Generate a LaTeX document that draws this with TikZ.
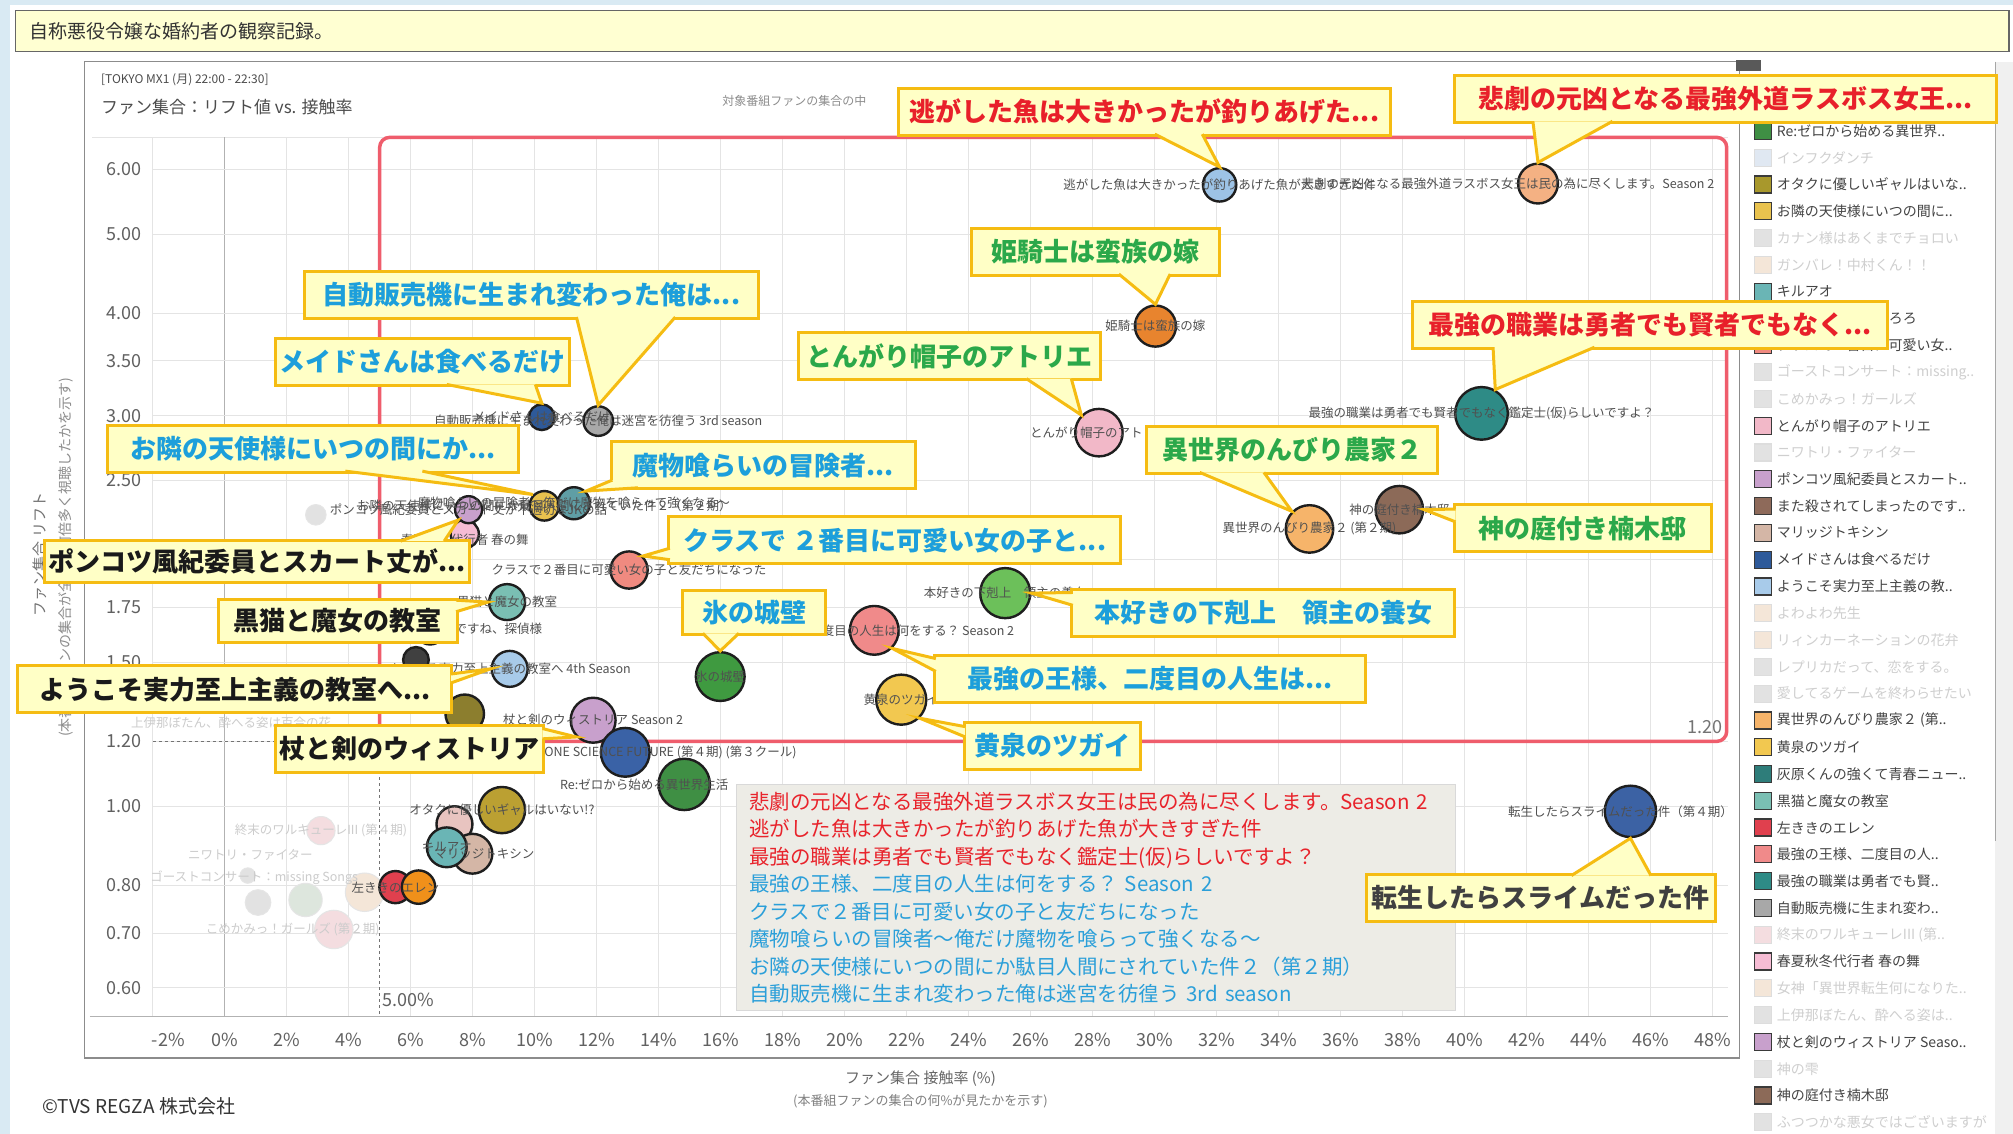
\documentclass[tikz,border=0pt]{standalone}
\usepackage{fontspec}
\setmainfont{Noto Sans CJK JP}
\usetikzlibrary{calc}
\usetikzlibrary{positioning}

\definecolor{winblue}{HTML}{D9EAF3}
\definecolor{titlebar}{HTML}{FFFFD2}
\definecolor{calfill}{HTML}{FFFFC6}
\definecolor{calline}{HTML}{F5BC12}
\definecolor{calred}{HTML}{E8202A}
\definecolor{calblue}{HTML}{1D9FDB}
\definecolor{calgreen}{HTML}{2BA84A}
\definecolor{calblack}{HTML}{1A1A1A}
\definecolor{bubline}{HTML}{1E1E1E}
\definecolor{labgray}{HTML}{505050}
\definecolor{gridgray}{HTML}{E4E4E4}
\definecolor{redbox}{HTML}{EF5D6C}
\definecolor{notebg}{HTML}{EDECE6}
\definecolor{txtred}{HTML}{E8232B}
\definecolor{txtblue}{HTML}{2B9FD9}
\definecolor{legtxt}{HTML}{444444}
\definecolor{legfade}{HTML}{CFCFCF}
\definecolor{legbd}{HTML}{3A3A3A}
\definecolor{legfbd}{HTML}{DDDDDD}
% bubble colours
\definecolor{cNigashi}{HTML}{9DC3E6}
\definecolor{cHigeki}{HTML}{F4B183}
\definecolor{cHime}{HTML}{E8842E}
\definecolor{cTongari}{HTML}{F2B8C8}
\definecolor{cSaikyo}{HTML}{2E8B86}
\definecolor{cKami}{HTML}{8C6A58}
\definecolor{cIsekai}{HTML}{F6B46A}
\definecolor{cHonzuki}{HTML}{6CC05A}
\definecolor{cOusama}{HTML}{F08A8A}
\definecolor{cYomi}{HTML}{F2C850}
\definecolor{cKoori}{HTML}{3F9A40}
\definecolor{cClass}{HTML}{F08A80}
\definecolor{cMamono}{HTML}{5F9EA5}
\definecolor{cOtonari}{HTML}{E9C24E}
\definecolor{cPonkotsu}{HTML}{C8A0CC}
\definecolor{cShunka}{HTML}{F6BCD4}
\definecolor{cJihan}{HTML}{A8A8A8}
\definecolor{cMaid}{HTML}{2E5A9A}
\definecolor{cKuroneko}{HTML}{7ABFB3}
\definecolor{cYoukoso}{HTML}{A8CBEA}
\definecolor{cTsue}{HTML}{C8A0CC}
\definecolor{cOlive}{HTML}{8C7E2E}
\definecolor{cDrstone}{HTML}{3A62A6}
\definecolor{cRezero}{HTML}{3F8F44}
\definecolor{cOtaku}{HTML}{BBA032}
\definecolor{cOtakuLeg}{HTML}{A8982C}
\definecolor{cKiruao}{HTML}{6AB5B5}
\definecolor{cMatakoro}{HTML}{8E6A5A}
\definecolor{cPinkish}{HTML}{E8C4C0}
\definecolor{cMarriage}{HTML}{D4B6A6}
\definecolor{cHidari}{HTML}{E0404E}
\definecolor{cOrange}{HTML}{F0901A}
\definecolor{cTensura}{HTML}{3C62A4}
\definecolor{cHaibara}{HTML}{2E7D7A}
\definecolor{cHoroboro}{HTML}{8FAF5A}
\definecolor{fGray}{HTML}{E2E2E2}
\definecolor{fBlue}{HTML}{E0E8F2}
\definecolor{fBeige}{HTML}{F4E6D8}
\definecolor{fPink}{HTML}{F4DDE0}
\definecolor{fGreen}{HTML}{DDE6DD}

\tikzset{
  bub/.style={circle, draw=bubline, line width=2.4pt, inner sep=0pt, minimum size={#1*1.2838pt}},
  fadebub/.style={circle, draw=black!10, line width=1pt, inner sep=0pt, minimum size={#1*1.2838pt}},
  lab/.style={text=labgray, inner sep=0pt, font=\fontsize{12.5}{13}\selectfont},
  fadelab/.style={text=black!20, inner sep=0pt, font=\fontsize{12.5}{13}\selectfont},
  callbox/.style={draw=calline, fill=calfill, line width=3pt, inner xsep=4pt, minimum height=47pt,
    font=\bfseries\fontsize{26}{28}\selectfont},
  tick/.style={text=black!62, inner sep=0pt, font=\fontsize{18}{18}\selectfont},
  gridline/.style={draw=gridgray, line width=1pt},
  legsq/.style={minimum size=17pt, inner sep=0pt, line width=1.2pt},
  legtext/.style={inner sep=0pt, anchor=west, font=\fontsize{14}{14}\selectfont},
  notebox/.style={fill=notebg, draw=black!15, line width=1pt, align=left, anchor=north west,
    inner xsep=13pt, inner ysep=7pt, text width=693pt, font=\fontsize{20.5}{27.5}\selectfont},
}

% pointer of a callout: two base points inside the box, then the tip
\newcommand{\calptr}[3]{%
  \fill[calfill] #1 -- #3 -- #2 -- cycle;
  \draw[calline, line width=3pt] #1 -- #3 -- #2;}

\begin{document}
\begin{tikzpicture}[x=1.2838pt, y=-1.2838pt]
  \useasboundingbox (0,0) rectangle (1568,883);
  \fill[winblue] (0,0) rectangle (1568,883);
  \fill[white] (8,4) rectangle (1568,883);

  % title bar
  \draw[fill=titlebar, draw=black!60, line width=1.5pt] (12,8) rectangle (1565,40);
  \node[anchor=west, text=black!80, font=\fontsize{19}{19}\selectfont] (title) at (20,24) {自称悪役令嬢な婚約者の観察記録。};

  % chart frame and legend strip
  \draw[draw=black!45, line width=1.5pt] (66,48) rectangle (1355,824);
  \fill[black!6] (1554,48) rectangle (1568,883);
  \draw[draw=black!35, line width=1pt] (1554,48) -- (1554,655);
  \fill[black!65] (1352,47) rectangle (1372,55);

  % grid
  \draw[gridline] (72,107) -- (1346,107);
  \draw[gridline] (119,107) -- (119,792);
  \foreach \p in {2,4,...,48} {
    \pgfmathsetmacro\xx{175+24.15*\p}
    \draw[gridline] (\xx,107) -- (\xx,792);
  }
  \draw[draw=black!30, line width=1.2pt] (175,107) -- (175,792);
  \foreach \v/\s [count=\k] in {0.6/0.60,0.7/0.70,0.8/0.80,1/1.00,1.2/1.20,1.5/1.50,1.75/1.75,2/2.00,2.5/2.50,3/3.00,3.5/3.50,4/4.00,5/5.00,6/6.00} {
    \pgfmathsetmacro\yy{628-637.5*log10(\v)}
    \draw[gridline] (119,\yy) -- (1346,\yy);
    \node[tick, anchor=east] (yt\k) at (110,\yy) {\s};
  }
  \draw[draw=black!30, line width=1.2pt] (70,792) -- (1346,792);
  \node[tick] (xtm2) at (131,810) {-2\%};
  \foreach \p in {0,2,...,48} {
    \pgfmathsetmacro\xx{175+24.15*\p}
    \node[tick] (xt\p) at (\xx,810) {\p\%};
  }

  % thresholds
  \draw[draw=black!55, dashed, line width=1pt] (119,577.5) -- (295.75,577.5);
  \draw[draw=black!55, dashed, line width=1pt] (295.75,577.5) -- (295.75,792);
  \draw[redbox, line width=3.5pt, rounded corners=10pt] (295.75,107) rectangle (1345,577.5);
  \node[tick, anchor=east, text=black!55] (lim-y) at (1342,566) {1.20};
  \node[tick, anchor=west] (lim-x) at (298,779) {5.00\%};

  % headings and axis titles
  \node[anchor=west, text=black!70, font=\fontsize{12}{12}\selectfont] (head1) at (76,62) {[TOKYO MX1 (月) 22:00 - 22:30]};
  \node[anchor=west, text=black!70, font=\fontsize{17}{17}\selectfont] (head2) at (76,83) {ファン集合：リフト値 vs. 接触率};
  \node[anchor=west, text=black!45, font=\fontsize{12}{12}\selectfont] (head3) at (560,79) {対象番組ファンの集合の中};
  \node[rotate=90, text=black!55, font=\fontsize{15}{15}\selectfont] (ytitle1) at (31,432) {ファン集合 リフト};
  \node[rotate=90, text=black!45, font=\fontsize{14}{14}\selectfont] (ytitle2) at (51,434) {(本番組ファンの集合が全体の何倍多く視聴したかを示す)};
  \node[text=black!60, font=\fontsize{15}{15}\selectfont] (xtitle1) at (717,840) {ファン集合 接触率 (\%)};
  \node[text=black!50, font=\fontsize{13}{13}\selectfont] (xtitle2) at (717,858) {(本番組ファンの集合の何\%が見たかを示す)};
  \node[anchor=west, text=black!80, font=\fontsize{19}{19}\selectfont] (copyright) at (30,862) {©TVS REGZA 株式会社};

  % note box
  \node[notebox] (notes) at (573,611) {%
    \textcolor{txtred}{悲劇の元凶となる最強外道ラスボス女王は民の為に尽くします。Season 2}\\
    \textcolor{txtred}{逃がした魚は大きかったが釣りあげた魚が大きすぎた件}\\
    \textcolor{txtred}{最強の職業は勇者でも賢者でもなく鑑定士(仮)らしいですよ？}\\
    \textcolor{txtblue}{最強の王様、二度目の人生は何をする？ Season 2}\\
    \textcolor{txtblue}{クラスで２番目に可愛い女の子と友だちになった}\\
    \textcolor{txtblue}{魔物喰らいの冒険者～俺だけ魔物を喰らって強くなる～}\\
    \textcolor{txtblue}{お隣の天使様にいつの間にか駄目人間にされていた件２（第２期）}\\
    \textcolor{txtblue}{自動販売機に生まれ変わった俺は迷宮を彷徨う 3rd season}};

  % faded bubbles
  \node[fadebub=16, fill=fGray] (f-a) at (246,401) {};
  \node[fadebub=22, fill=fPink] (f-b) at (250,647) {};
  \node[fadebub=12, fill=fGray] (f-c) at (193,682) {};
  \node[fadebub=20, fill=fGray] (f-d) at (201,703) {};
  \node[fadebub=26, fill=fGreen] (f-e) at (238,701) {};
  \node[fadebub=30, fill=fPink] (f-f) at (260,724) {};
  \node[fadebub=30, fill=fBeige] (f-g) at (284,695) {};
  \node[fadelab] (fl-b) at (f-b) {終末のワルキューレIII (第４期)};
  \node[fadelab] (fl-c) at (198,684) {ゴーストコンサート：missing Songs};
  \node[fadelab] (fl-f) at (228,724) {こめかみっ！ガールズ (第２期)};
  \node[fadelab] (fl-h) at (180,563) {上伊那ぼたん、酔へる姿は百合の花};
  \node[fadelab] (fl-i) at (195,666) {ニワトリ・ファイター};

  % bubbles
  \node[bub=26, fill=cNigashi] (b-nigashi) at (950,144) {};
  \node[bub=31, fill=cHigeki] (b-higeki) at (1198,143) {};
  \node[bub=32, fill=cHime] (b-hime) at (900,254) {};
  \node[bub=37, fill=cTongari] (b-tongari) at (856,337) {};
  \node[bub=41, fill=cSaikyo] (b-saikyo) at (1154,322) {};
  \node[bub=37, fill=cKami] (b-kami) at (1090,397) {};
  \node[bub=37, fill=cIsekai] (b-isekai) at (1020,412) {};
  \node[bub=39, fill=cHonzuki] (b-honzuki) at (783,462) {};
  \node[bub=38, fill=cOusama] (b-ousama) at (681,491) {};
  \node[bub=39, fill=cYomi] (b-yomi) at (702,545) {};
  \node[bub=38, fill=cKoori] (b-koori) at (561,527) {};
  \node[bub=29, fill=cClass] (b-class) at (490,444) {};
  \node[bub=24, fill=cMatakoro] (b-matakoro) at (335,490) {};
  \node[bub=22, fill=cShunka] (b-shunka) at (362,416) {};
  \node[bub=21, fill=cPonkotsu] (b-ponkotsu) at (365,397) {};
  \node[bub=23, fill=cOtonari] (b-otonari) at (424,394) {};
  \node[bub=25, fill=cMamono] (b-mamono) at (447,392) {};
  \node[bub=20, fill=cMaid] (b-maid) at (422,325) {};
  \node[bub=23, fill=cJihan] (b-jihan) at (466,328) {};
  \node[bub=28, fill=cKuroneko] (b-kuroneko) at (395,469) {};
  \node[bub=20, fill=black!75] (b-dark) at (324,514) {};
  \node[bub=28, fill=cYoukoso] (b-youkoso) at (397,521) {};
  \node[bub=30, fill=cOlive] (b-olive) at (362,556) {};
  \node[bub=35, fill=cTsue] (b-tsue) at (462,561) {};
  \node[bub=38, fill=cDrstone] (b-drstone) at (487,586) {};
  \node[bub=40, fill=cRezero] (b-rezero) at (533,611) {};
  \node[bub=36, fill=cOtaku] (b-otaku) at (391,631) {};
  \node[bub=28, fill=cPinkish] (b-pinkish) at (354,642) {};
  \node[bub=31, fill=cMarriage] (b-marriage) at (368,665) {};
  \node[bub=31, fill=cKiruao] (b-kiruao) at (348,660) {};
  \node[bub=25, fill=cHidari] (b-hidari) at (308,691) {};
  \node[bub=26, fill=cOrange] (b-orange) at (326,691) {};
  \node[bub=40, fill=cTensura] (b-tensura) at (1270,632) {};

  % data labels
  \node[lab] (l-nigashi) at (b-nigashi) {逃がした魚は大きかったが釣りあげた魚が大きすぎた件};
  \node[lab] (l-higeki) at ([xshift=-30pt]b-higeki) {悲劇の元凶となる最強外道ラスボス女王は民の為に尽くします。Season 2};
  \node[lab] (l-hime) at (b-hime) {姫騎士は蛮族の嫁};
  \node[lab] (l-tongari) at (b-tongari) {とんがり帽子のアトリエ};
  \node[lab] (l-saikyo) at (b-saikyo) {最強の職業は勇者でも賢者でもなく鑑定士(仮)らしいですよ？};
  \node[lab] (l-kami) at (b-kami) {神の庭付き楠木邸};
  \node[lab] (l-isekai) at (b-isekai) {異世界のんびり農家２ (第２期)};
  \node[lab] (l-honzuki) at (b-honzuki) {本好きの下剋上　領主の養女};
  \node[lab] (l-ousama) at (b-ousama) {最強の王様、二度目の人生は何をする？ Season 2};
  \node[lab] (l-yomi) at (b-yomi) {黄泉のツガイ};
  \node[lab] (l-koori) at (b-koori) {氷の城壁};
  \node[lab] (l-class) at (b-class) {クラスで２番目に可愛い女の子と友だちになった};
  \node[lab] (l-matakoro) at (b-matakoro) {また殺されてしまったのですね、探偵様};
  \node[lab] (l-shunka) at ([yshift=-6pt]b-shunka) {春夏秋冬代行者 春の舞};
  \node[lab] (l-ponkotsu) at (b-ponkotsu) {ポンコツ風紀委員とスカート丈が不適切なJKの話};
  \node[lab] (l-otonari) at (b-otonari) {お隣の天使様にいつの間にか駄目人間にされていた件２（第２期）};
  \node[lab] (l-mamono) at (b-mamono) {魔物喰らいの冒険者～俺だけ魔物を喰らって強くなる～};
  \node[lab] (l-maid) at (b-maid) {メイドさんは食べるだけ};
  \node[lab] (l-jihan) at (b-jihan) {自動販売機に生まれ変わった俺は迷宮を彷徨う 3rd season};
  \node[lab] (l-kuroneko) at (b-kuroneko) {黒猫と魔女の教室};
  \node[lab] (l-youkoso) at (b-youkoso) {ようこそ実力至上主義の教室へ 4th Season};
  \node[lab] (l-tsue) at (b-tsue) {杖と剣のウィストリア Season 2};
  \node[lab] (l-drstone) at ([xshift=30pt]b-drstone) {Dr.STONE SCIENCE FUTURE (第４期) (第３クール)};
  \node[lab] (l-rezero) at ([xshift=-40pt]b-rezero) {Re:ゼロから始める異世界生活};
  \node[lab] (l-otaku) at (b-otaku) {オタクに優しいギャルはいない!?};
  \node[lab] (l-kiruao) at (b-kiruao) {キルアオ};
  \node[lab] (l-marriage) at ([xshift=12pt]b-marriage) {マリッジトキシン};
  \node[lab] (l-hidari) at (b-hidari) {左ききのエレン};
  \node[lab] (l-tensura) at ([xshift=-10pt]b-tensura) {転生したらスライムだった件（第４期）};

  % legend
  \foreach \col/\bc/\tc/\txt [count=\i] in {
    cRezero/legbd/legtxt/{Re:ゼロから始める異世界..},
    fBlue/legfbd/legfade/{インフクダンチ},
    cOtakuLeg/legbd/legtxt/{オタクに優しいギャルはいな..},
    cOtonari/legbd/legtxt/{お隣の天使様にいつの間に..},
    fGray/legfbd/legfade/{カナン様はあくまでチョロい},
    fBeige/legfbd/legfade/{ガンバレ！中村くん！！},
    cKiruao/legbd/legtxt/{キルアオ},
    cHoroboro/legbd/legtxt/{クジマ歌えば家ほろろ},
    cClass/legbd/legtxt/{クラスで２番目に可愛い女..},
    fGray/legfbd/legfade/{ゴーストコンサート：missing..},
    fGray/legfbd/legfade/{こめかみっ！ガールズ},
    cTongari/legbd/legtxt/{とんがり帽子のアトリエ},
    fGray/legfbd/legfade/{ニワトリ・ファイター},
    cPonkotsu/legbd/legtxt/{ポンコツ風紀委員とスカート..},
    cMatakoro/legbd/legtxt/{また殺されてしまったのです..},
    cMarriage/legbd/legtxt/{マリッジトキシン},
    cMaid/legbd/legtxt/{メイドさんは食べるだけ},
    cYoukoso/legbd/legtxt/{ようこそ実力至上主義の教..},
    fBeige/legfbd/legfade/{よわよわ先生},
    fBeige/legfbd/legfade/{リィンカーネーションの花弁},
    fGray/legfbd/legfade/{レプリカだって、恋をする。},
    fGray/legfbd/legfade/{愛してるゲームを終わらせたい},
    cIsekai/legbd/legtxt/{異世界のんびり農家２ (第..},
    cYomi/legbd/legtxt/{黄泉のツガイ},
    cHaibara/legbd/legtxt/{灰原くんの強くて青春ニュー..},
    cKuroneko/legbd/legtxt/{黒猫と魔女の教室},
    cHidari/legbd/legtxt/{左ききのエレン},
    cOusama/legbd/legtxt/{最強の王様、二度目の人..},
    cSaikyo/legbd/legtxt/{最強の職業は勇者でも賢..},
    cJihan/legbd/legtxt/{自動販売機に生まれ変わ..},
    fPink/legfbd/legfade/{終末のワルキューレIII (第..},
    cShunka/legbd/legtxt/{春夏秋冬代行者 春の舞},
    fBeige/legfbd/legfade/{女神「異世界転生何になりた..},
    fGray/legfbd/legfade/{上伊那ぼたん、酔へる姿は..},
    cTsue/legbd/legtxt/{杖と剣のウィストリア Seaso..},
    fGray/legfbd/legfade/{神の雫},
    cKami/legbd/legtxt/{神の庭付き楠木邸},
    fGray/legfbd/legfade/{ふつつかな悪女ではございますが}} {
    \pgfmathsetmacro\ly{102+(\i-1)*20.87}
    \node[legsq, fill=\col, draw=\bc] (sq\i) at (1373,\ly) {};
    \node[legtext, text=\tc, right=5pt of sq\i] (lt\i) {\txt};
  }

  % callouts
  \node[callbox, text=calred, minimum width=492pt] (c-nigashi) at (891.5,87) {逃がした魚は大きかったが釣りあげた...};
  \node[callbox, text=calred, minimum width=542pt] (c-higeki) at (1344,77) {悲劇の元凶となる最強外道ラスボス女王...};
  \node[callbox, text=calgreen, minimum width=248pt] (c-hime) at (853.5,196) {姫騎士は蛮族の嫁};
  \node[callbox, text=calblue, minimum width=454pt] (c-jihan) at (414,229.5) {自動販売機に生まれ変わった俺は...};
  \node[callbox, text=calblue, minimum width=288pt] (c-maid) at (329,282) {メイドさんは食べるだけ};
  \node[callbox, text=calgreen, minimum width=302pt] (c-tongari) at (739.5,277.5) {とんがり帽子のアトリエ};
  \node[callbox, text=calred, minimum width=475pt] (c-saikyo) at (1285,253) {最強の職業は勇者でも賢者でもなく...};
  \node[callbox, text=calblue, minimum width=411pt] (c-otonari) at (244,349.5) {お隣の天使様にいつの間にか...};
  \node[callbox, text=calgreen, minimum width=291pt] (c-isekai) at (1006.5,350.5) {異世界のんびり農家２};
  \node[callbox, text=calblue, minimum width=304pt] (c-mamono) at (594.5,362.5) {魔物喰らいの冒険者...};
  \node[callbox, text=calgreen, minimum width=257pt] (c-kami) at (1233,411.5) {神の庭付き楠木邸};
  \node[callbox, text=calblue, minimum width=452pt] (c-class) at (697,421) {クラスで ２番目に可愛い女の子と...};
  \node[callbox, text=calblack, minimum width=424pt, minimum height=42pt] (c-ponkotsu) at (200,437) {ポンコツ風紀委員とスカート丈が...};
  \node[callbox, text=calblue, minimum width=383pt] (c-honzuki) at (984,477.5) {本好きの下剋上　領主の養女};
  \node[callbox, text=calblue, minimum width=143pt, minimum height=44pt] (c-koori) at (587.5,477) {氷の城壁};
  \node[callbox, text=calblack, minimum width=239pt, minimum height=43pt] (c-kuroneko) at (263,483.5) {黒猫と魔女の教室};
  \node[callbox, text=calblue, minimum width=431pt] (c-ousama) at (896,529) {最強の王様、二度目の人生は...};
  \node[callbox, text=calblack, minimum width=434pt] (c-youkoso) at (183,537) {ようこそ実力至上主義の教室へ...};
  \node[callbox, text=calblue, minimum width=176pt] (c-yomi) at (819.5,581) {黄泉のツガイ};
  \node[callbox, text=calblack, minimum width=262pt] (c-tsue) at (319,583.5) {杖と剣のウィストリア};
  \node[callbox, text=black!75, minimum width=349pt] (c-tensura) at (1200,699.5) {転生したらスライムだった件};

  % callout pointers
  \calptr{($(c-nigashi.south)+(8,-2)$)}{($(c-nigashi.south)+(45,-2)$)}{(b-nigashi.north)}
  \calptr{($(c-higeki.south)+(-150,-2)$)}{($(c-higeki.south)+(-88,-2)$)}{(b-higeki.north)}
  \calptr{($(c-hime.south)+(18,-2)$)}{($(c-hime.south)+(58,-2)$)}{(b-hime.north)}
  \calptr{($(c-jihan.south)+(35,-2)$)}{($(c-jihan.south)+(112,-2)$)}{(b-jihan.north)}
  \calptr{($(c-maid.south)+(19,-2)$)}{($(c-maid.south)+(88,-2)$)}{(b-maid.north)}
  \calptr{($(c-tongari.south)+(60,-2)$)}{($(c-tongari.south)+(95,-2)$)}{(b-tongari.north west)}
  \calptr{($(c-saikyo.south)+(-122,-2)$)}{($(c-saikyo.south)+(-43,-2)$)}{(b-saikyo.60)}
  \calptr{($(c-otonari.south)+(25,-2)$)}{($(c-otonari.south)+(85,-2)$)}{(b-otonari.north west)}
  \calptr{($(c-isekai.south)+(-72,-2)$)}{($(c-isekai.south)+(-22,-2)$)}{(b-isekai.north west)}
  \calptr{($(c-mamono.south west)+(2,-8)$)}{($(c-mamono.south west)+(22,-2)$)}{(b-mamono.north east)}
  \calptr{($(c-kami.west)+(2,-15)$)}{($(c-kami.west)+(2,-5)$)}{(b-kami.east)}
  \calptr{($(c-class.west)+(2,6)$)}{($(c-class.west)+(2,15)$)}{(b-class.north east)}
  \calptr{($(c-ponkotsu.north)+(112,2)$)}{($(c-ponkotsu.north)+(146,2)$)}{(b-ponkotsu.south west)}
  \calptr{($(c-honzuki.west)+(2,-16)$)}{($(c-honzuki.west)+(2,-6)$)}{(b-honzuki.east)}
  \calptr{($(c-koori.south)+(-40,-2)$)}{($(c-koori.south)+(-12,-2)$)}{(b-koori.north)}
  \calptr{($(c-kuroneko.east)+(-2,-16)$)}{($(c-kuroneko.east)+(-2,-7)$)}{(b-kuroneko.west)}
  \calptr{($(c-ousama.west)+(2,-16)$)}{($(c-ousama.west)+(2,-6)$)}{(b-ousama.south east)}
  \calptr{($(c-youkoso.east)+(-2,-12)$)}{($(c-youkoso.east)+(-2,-5)$)}{(b-youkoso.west)}
  \calptr{($(c-yomi.west)+(2,-15)$)}{($(c-yomi.west)+(2,-7)$)}{(b-yomi.south east)}
  \calptr{($(c-tsue.east)+(-2,-16)$)}{($(c-tsue.east)+(-2,-8)$)}{(b-tsue.south west)}
  \calptr{($(c-tensura.north)+(24,2)$)}{($(c-tensura.north)+(86,2)$)}{(b-tensura.south)}
\end{tikzpicture}
\end{document}
